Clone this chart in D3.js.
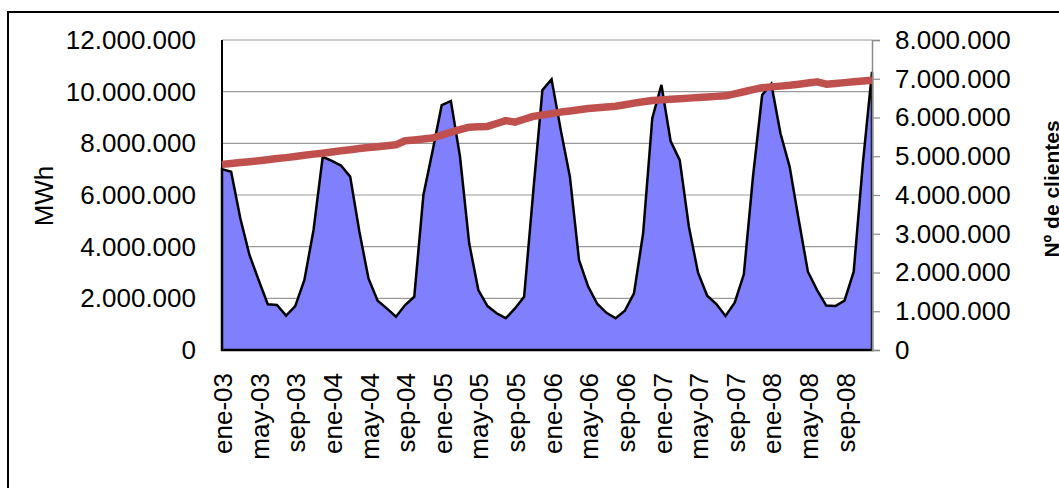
<!doctype html>
<html>
<head>
<meta charset="utf-8"/>
<title>MWh y clientes</title>
<script src="https://cdnjs.cloudflare.com/ajax/libs/d3/7.8.5/d3.min.js"></script>
<style>
  body { margin: 0; background: #fff; }
  svg { display: block; font-family: "Liberation Sans", Arial, sans-serif; }
</style>
</head>
<body>
<svg width="1059" height="488"></svg>
<script>
// meses y años del eje de categorias
var meses = ["ene","feb","mar","abr","may","jun","jul","ago","sep","oct","nov","dic"];
var anios = ["03","04","05","06","07","08"];

// consumo mensual (MWh)
var mwh = [
  7000000, 6900000, 5100000, 3680000, 2710000, 1770000, 1740000, 1330000, 1700000, 2710000, 4650000, 7480000,
  7320000, 7140000, 6710000, 4600000, 2770000, 1910000, 1610000, 1290000, 1740000, 2060000, 6000000, 7700000,
  9480000, 9640000, 7480000, 4130000, 2320000, 1700000, 1420000, 1230000, 1610000, 2060000, 6140000, 10060000,
  10480000, 8520000, 6710000, 3480000, 2450000, 1780000, 1440000, 1230000, 1520000, 2190000, 4520000, 8970000,
  10260000, 8090000, 7350000, 4770000, 2990000, 2100000, 1780000, 1320000, 1830000, 2930000, 6710000, 9870000,
  10300000, 8390000, 7100000, 5030000, 3030000, 2320000, 1720000, 1700000, 1910000, 3030000, 7220000, 10770000
];

// numero de clientes
var clientes = [
  4790000, 4815000, 4840000, 4860000, 4885000, 4910000, 4940000, 4965000, 4995000, 5025000, 5055000, 5080000,
  5110000, 5140000, 5170000, 5200000, 5225000, 5245000, 5270000, 5295000, 5400000, 5420000, 5445000, 5470000,
  5545000, 5620000, 5685000, 5750000, 5760000, 5770000, 5845000, 5920000, 5880000, 5955000, 6030000, 6065000,
  6100000, 6140000, 6170000, 6200000, 6230000, 6250000, 6270000, 6290000, 6330000, 6370000, 6405000, 6440000,
  6455000, 6470000, 6485000, 6500000, 6515000, 6530000, 6545000, 6560000, 6610000, 6665000, 6720000, 6770000,
  6790000, 6810000, 6830000, 6860000, 6890000, 6920000, 6860000, 6880000, 6900000, 6920000, 6940000, 6960000
];

var ticksIzq = [0, 2000000, 4000000, 6000000, 8000000, 10000000, 12000000];
var ticksDer = [0, 1000000, 2000000, 3000000, 4000000, 5000000, 6000000, 7000000, 8000000];

var categorias = [];
anios.forEach(function (a) {
  meses.forEach(function (m) { categorias.push(m + "-" + a); });
});

var svg = d3.select("svg");

var pIzq = 222, pDer = 872, pSup = 40, pInf = 350;

var x = d3.scaleLinear().domain([0, categorias.length - 1]).range([pIzq, pDer]);
var yIzq = d3.scaleLinear().domain([0, 12000000]).range([pInf, pSup]);
var yDer = d3.scaleLinear().domain([0, 8000000]).range([pInf, pSup]);

var fmt = function (v) { return d3.format(",")(v).replace(/,/g, "."); };

// marco exterior
svg.append("rect")
  .attr("x", 8).attr("y", 12)
  .attr("width", 1070).attr("height", 500)
  .attr("fill", "none").attr("stroke", "#000").attr("stroke-width", 2);

// lineas de division
svg.append("g")
  .selectAll("line")
  .data(ticksIzq.slice(1))
  .join("line")
  .attr("x1", pIzq).attr("x2", pDer)
  .attr("y1", function (d) { return yIzq(d); })
  .attr("y2", function (d) { return yIzq(d); })
  .attr("stroke", "#9a9a9a").attr("stroke-width", 1.2);

// area MWh
var area = d3.area()
  .x(function (d, i) { return x(i); })
  .y0(yIzq(0))
  .y1(function (d) { return yIzq(d); });

svg.append("path")
  .attr("d", area(mwh))
  .attr("fill", "#8080ff")
  .attr("stroke", "#000")
  .attr("stroke-width", 2.5)
  .attr("stroke-linejoin", "miter");

// eje derecho
var ejeDer = d3.axisRight(yDer).tickValues(ticksDer).tickSize(8).tickFormat(fmt);
var gDer = svg.append("g")
  .attr("transform", "translate(" + pDer + ",0)")
  .call(ejeDer);
gDer.select(".domain").attr("stroke", "#8c8c8c").attr("stroke-width", 1.5);
gDer.selectAll(".tick line").attr("stroke", "#8c8c8c").attr("stroke-width", 1.2);
gDer.selectAll(".tick text")
  .attr("x", 23)
  .attr("font-size", 26)
  .attr("font-family", "Liberation Sans, Arial, sans-serif")
  .attr("fill", "#000");

// eje izquierdo
svg.append("line")
  .attr("x1", pIzq).attr("x2", pIzq)
  .attr("y1", pSup).attr("y2", pInf)
  .attr("stroke", "#000").attr("stroke-width", 2);

svg.append("g")
  .selectAll("text")
  .data(ticksIzq)
  .join("text")
  .attr("x", 196)
  .attr("y", function (d) { return yIzq(d); })
  .attr("dy", "0.35em")
  .attr("text-anchor", "end")
  .attr("font-size", 26)
  .text(fmt);

// linea clientes
var linea = d3.line()
  .x(function (d, i) { return x(i); })
  .y(function (d) { return yDer(d); });

svg.append("path")
  .attr("d", linea(clientes))
  .attr("fill", "none")
  .attr("stroke", "#c0504d")
  .attr("stroke-width", 7.5)
  .attr("stroke-linejoin", "round");

// etiquetas de categoria
var idx = d3.range(0, categorias.length, 4);
svg.append("g")
  .selectAll("text")
  .data(idx)
  .join("text")
  .attr("transform", function (i) { return "translate(" + (x(i) + 1) + ",373) rotate(-90)"; })
  .attr("dy", "0.35em")
  .attr("text-anchor", "end")
  .attr("font-size", 26)
  .text(function (i) { return categorias[i]; });

// titulos
svg.append("text")
  .attr("transform", "translate(44,196) rotate(-90)")
  .attr("dy", "0.35em")
  .attr("text-anchor", "middle")
  .attr("font-size", 26)
  .text("MWh");

svg.append("text")
  .attr("transform", "translate(1059,189) rotate(-90)")
  .attr("text-anchor", "middle")
  .attr("font-size", 21)
  .attr("font-weight", "bold")
  .text("Nº de clientes");
</script>
</body>
</html>
